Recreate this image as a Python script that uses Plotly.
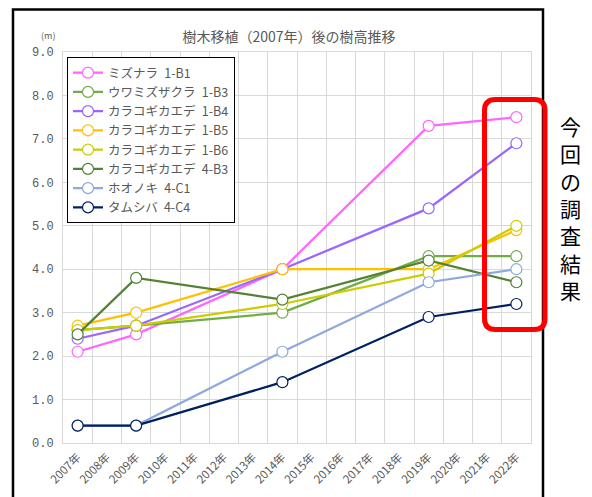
import plotly.graph_objects as go

# ---- data ----
years = [2007, 2009, 2014, 2019, 2022]
all_years = list(range(2007, 2023))
year_labels = [f"{y}年" for y in all_years]

names = ["ミズナラ\u20021-B1", "ウワミズザクラ\u20021-B3", "カラコギカエデ\u20021-B4", "カラコギカエデ\u20021-B5",
         "カラコギカエデ\u20021-B6", "カラコギカエデ\u20024-B3", "ホオノキ\u20024-C1", "タムシバ\u20024-C4"]
mizunara_1b1 = [2.1, 2.5, 4.0, 7.3, 7.5]
uwamizuzakura_1b3 = [2.6, 2.7, 3.0, 4.3, 4.3]
karakogi_1b4 = [2.4, 2.7, 4.0, 5.4, 6.9]
karakogi_1b5 = [2.7, 3.0, 4.0, 4.0, 4.9]
karakogi_1b6 = [2.6, 2.7, 3.2, 3.9, 5.0]
karakogi_4b3 = [2.5, 3.8, 3.3, 4.2, 3.7]
hoonoki_4c1 = [0.4, 0.4, 2.1, 3.7, 4.0]
tamushiba_4c4 = [0.4, 0.4, 1.4, 2.9, 3.2]
series = [mizunara_1b1, uwamizuzakura_1b3, karakogi_1b4, karakogi_1b5,
          karakogi_1b6, karakogi_4b3, hoonoki_4c1, tamushiba_4c4]
colors = ["#FF66FF", "#70AD47", "#9966FF", "#FFC000", "#CCCC00", "#548235", "#8EA9DB", "#002060"]

# ---- layout geometry (pixels) ----
W, H = 592, 497
L, R, T, B = 63, 531, 52, 443


def px(x):
    return (x - L) / (R - L)


def py(y):
    return (B - y) / (B - T)


fig = go.Figure()
for name, vals, c in zip(names, series, colors):
    fig.add_trace(go.Scatter(
        x=years, y=vals, name=name, mode="lines+markers",
        line=dict(color=c, width=2.25),
        marker=dict(symbol="circle", size=11, color="white", line=dict(color=c, width=1.2)),
    ))

grid = "#D9D9D9"
txt = "#595959"

# rounded red box
x0, x1, y0, y1, r = 484.5, 545, 99.5, 329.5, 11
pts = [
    ("M", (x0 + r, y0)), ("L", (x1 - r, y0)), ("Q", (x1, y0), (x1, y0 + r)),
    ("L", (x1, y1 - r)), ("Q", (x1, y1), (x1 - r, y1)), ("L", (x0 + r, y1)),
    ("Q", (x0, y1), (x0, y1 - r)), ("L", (x0, y0 + r)), ("Q", (x0, y0), (x0 + r, y0)),
]
path = ""
for seg in pts:
    path += seg[0] + " " + " ".join(f"{px(p[0]):.5f},{py(p[1]):.5f}" for p in seg[1:]) + " "
path += "Z"

shapes = [
    dict(type="rect", xref="paper", yref="paper", x0=px(13), x1=px(543), y0=py(515), y1=py(9.5),
         line=dict(color="black", width=2.5), fillcolor="rgba(0,0,0,0)", layer="above"),
    dict(type="path", xref="paper", yref="paper", path=path,
         line=dict(color="#FF0000", width=5), fillcolor="rgba(0,0,0,0)", layer="above"),
]

annotations = [
    dict(text="(m)", xref="paper", yref="paper", x=px(48), y=py(35), showarrow=False,
         font=dict(size=9, color=txt, family="Noto Sans CJK JP"), xanchor="center", yanchor="middle"),
    dict(text="<br>".join(list("今回の調査結果")), xref="paper", yref="paper", x=px(570), y=py(208),
         showarrow=False, font=dict(size=21, color="black", family="Noto Sans CJK JP"),
         xanchor="center", yanchor="middle"),
]

fig.update_layout(
    width=W, height=H,
    margin=dict(l=L, r=W - R, t=T, b=H - B, pad=0, autoexpand=False),
    paper_bgcolor="white", plot_bgcolor="white",
    title=dict(text="樹木移植（2007年）後の樹高推移", x=px(289), xref="paper", xanchor="center",
               y=1 - 37 / H, yref="container", yanchor="middle",
               font=dict(size=14, color=txt, family="Noto Sans CJK JP")),
    showlegend=True,
    legend=dict(x=px(67), y=py(57), xanchor="left", yanchor="top", bgcolor="white",
                bordercolor="black", borderwidth=1, font=dict(size=12.5, color=txt, family="Noto Sans CJK JP"),
                tracegroupgap=0, itemwidth=30),
    shapes=shapes, annotations=annotations,
    xaxis=dict(type="linear", range=[2006.5, 2022.5], tickmode="array", tickvals=all_years,
               ticktext=year_labels, tickangle=-45, showgrid=False, zeroline=False,
               showline=True, linecolor=grid, linewidth=1, mirror=True, ticks="",
               ticklabelstandoff=2, automargin=False,
               tickfont=dict(size=11.5, color=txt, family="Noto Sans CJK JP"),
               minor=dict(tickmode="linear", tick0=2006.5, dtick=1, showgrid=True, gridcolor=grid, gridwidth=1)),
    yaxis=dict(range=[0, 9], dtick=1, tick0=0, tickformat=".1f", showgrid=True, gridcolor=grid,
               zeroline=False, showline=True, linecolor=grid, mirror=True, ticks="",
               ticklabelstandoff=6, automargin=False,
               tickfont=dict(size=12, color=txt, family="Liberation Mono")),
)

fig.write_html("out.html")
